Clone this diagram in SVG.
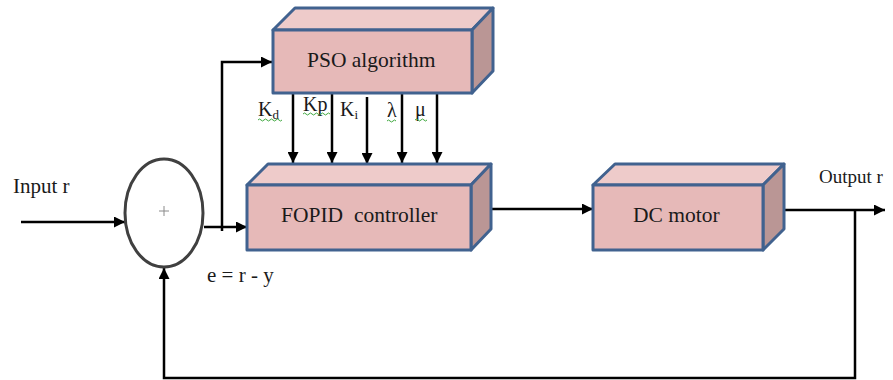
<svg xmlns="http://www.w3.org/2000/svg" width="893" height="380" viewBox="0 0 893 380">
  <defs>
    <marker id="arrow" viewBox="0 0 10 10" refX="10" refY="5" markerWidth="13" markerHeight="11" markerUnits="userSpaceOnUse" orient="auto">
      <path d="M0,0 L10,5 L0,10 z" fill="#000"/>
    </marker>
    <style>
      .front { fill: #E6B9B8; stroke: #41628F; stroke-width: 3; stroke-linejoin: round; }
      .top { fill: #EECBCA; stroke: #41628F; stroke-width: 3; stroke-linejoin: round; }
      .side { fill: #BA9695; stroke: #41628F; stroke-width: 3; stroke-linejoin: round; }
      .label { font-family: "Liberation Serif", "Times New Roman", serif; font-size: 20px; fill: #1a1a1a; }
      .block { font-size: 21.5px; }
      .signal { font-size: 21px; }
      .small { font-size: 19px; }
      .sub { font-size: 13px; }
      .wire { fill: none; stroke: #000; stroke-width: 2.5; }
      .squiggle { fill: none; stroke: #3FA83F; stroke-width: 1; }
    </style>
  </defs>

  <!-- connectors -->
  <g id="connectors">
    <path class="wire" d="M21,222 H125" marker-end="url(#arrow)"/>
    <path class="wire" d="M204,227 H247" marker-end="url(#arrow)"/>
    <path class="wire" d="M222,231 V62 H272" marker-end="url(#arrow)"/>
    <path class="wire" d="M293,93 V163" marker-end="url(#arrow)"/>
    <path class="wire" d="M332,93 V163" marker-end="url(#arrow)"/>
    <path class="wire" d="M367,97 V164" marker-end="url(#arrow)"/>
    <path class="wire" d="M402,93 V163" marker-end="url(#arrow)"/>
    <path class="wire" d="M437,93 V163" marker-end="url(#arrow)"/>
    <path class="wire" d="M471,209 H593" marker-end="url(#arrow)"/>
    <path class="wire" d="M763,210 H885" marker-end="url(#arrow)"/>
    <path class="wire" d="M855,210 V378 H164 V268" marker-end="url(#arrow)"/>
  </g>

  <!-- summing junction -->
  <g id="sum">
    <ellipse cx="164" cy="213" rx="39" ry="54" fill="#fff" stroke="#404040" stroke-width="3"/>
    <path d="M159,211 H169 M164,206 V216" stroke="#8a8a8a" stroke-width="1"/>
  </g>

  <!-- PSO algorithm block -->
  <g id="pso">
    <polygon class="top" points="273,30 295,8 493,8 472,30"/>
    <polygon class="side" points="472,30 493,8 493,71 472,93"/>
    <rect class="front" x="273" y="30" width="199" height="63"/>
    <text class="label block" x="307" y="67">PSO algorithm</text>
  </g>

  <!-- FOPID controller block -->
  <g id="fopid">
    <polygon class="top" points="247,185 268,164 491,164 471,185"/>
    <polygon class="side" points="471,185 491,164 491,229 471,250"/>
    <rect class="front" x="247" y="185" width="224" height="65"/>
    <text class="label block" x="281" y="222" xml:space="preserve">FOPID  controller</text>
  </g>

  <!-- DC motor block -->
  <g id="motor">
    <polygon class="top" points="593,185 615,164 784,164 763,185"/>
    <polygon class="side" points="763,185 784,164 784,229 763,250"/>
    <rect class="front" x="593" y="185" width="170" height="65"/>
    <text class="label block" x="633" y="222">DC motor</text>
  </g>

  <!-- signal labels -->
  <g id="labels">
    <text class="label signal" x="13" y="193">Input r</text>
    <text class="label small" x="819" y="183">Output r</text>
    <text class="label signal" x="207" y="282">e = r - y</text>
    <text class="label" x="258" y="116">K<tspan class="sub" dy="3">d</tspan></text>
    <text class="label" x="303" y="111">Kp</text>
    <text class="label" x="340" y="116">K<tspan class="sub" dy="3">i</tspan></text>
    <text class="label" x="387" y="117">λ</text>
    <text class="label" x="415" y="116">μ</text>
    <path class="squiggle" d="M258,120 q1.5,-2 3,0 t3,0 t3,0 t3,0 t3,0 t3,0 t3,0 t3,0"/>
    <path class="squiggle" d="M303,114 q1.5,-2 3,0 t3,0 t3,0 t3,0 t3,0 t3,0 t3,0 t3,0 t3,0"/>
    <path class="squiggle" d="M387,121 q1.5,-2 3,0 t3,0 t3,0"/>
    <path class="squiggle" d="M415,120 q1.5,-2 3,0 t3,0 t3,0 t3,0"/>
  </g>
</svg>
